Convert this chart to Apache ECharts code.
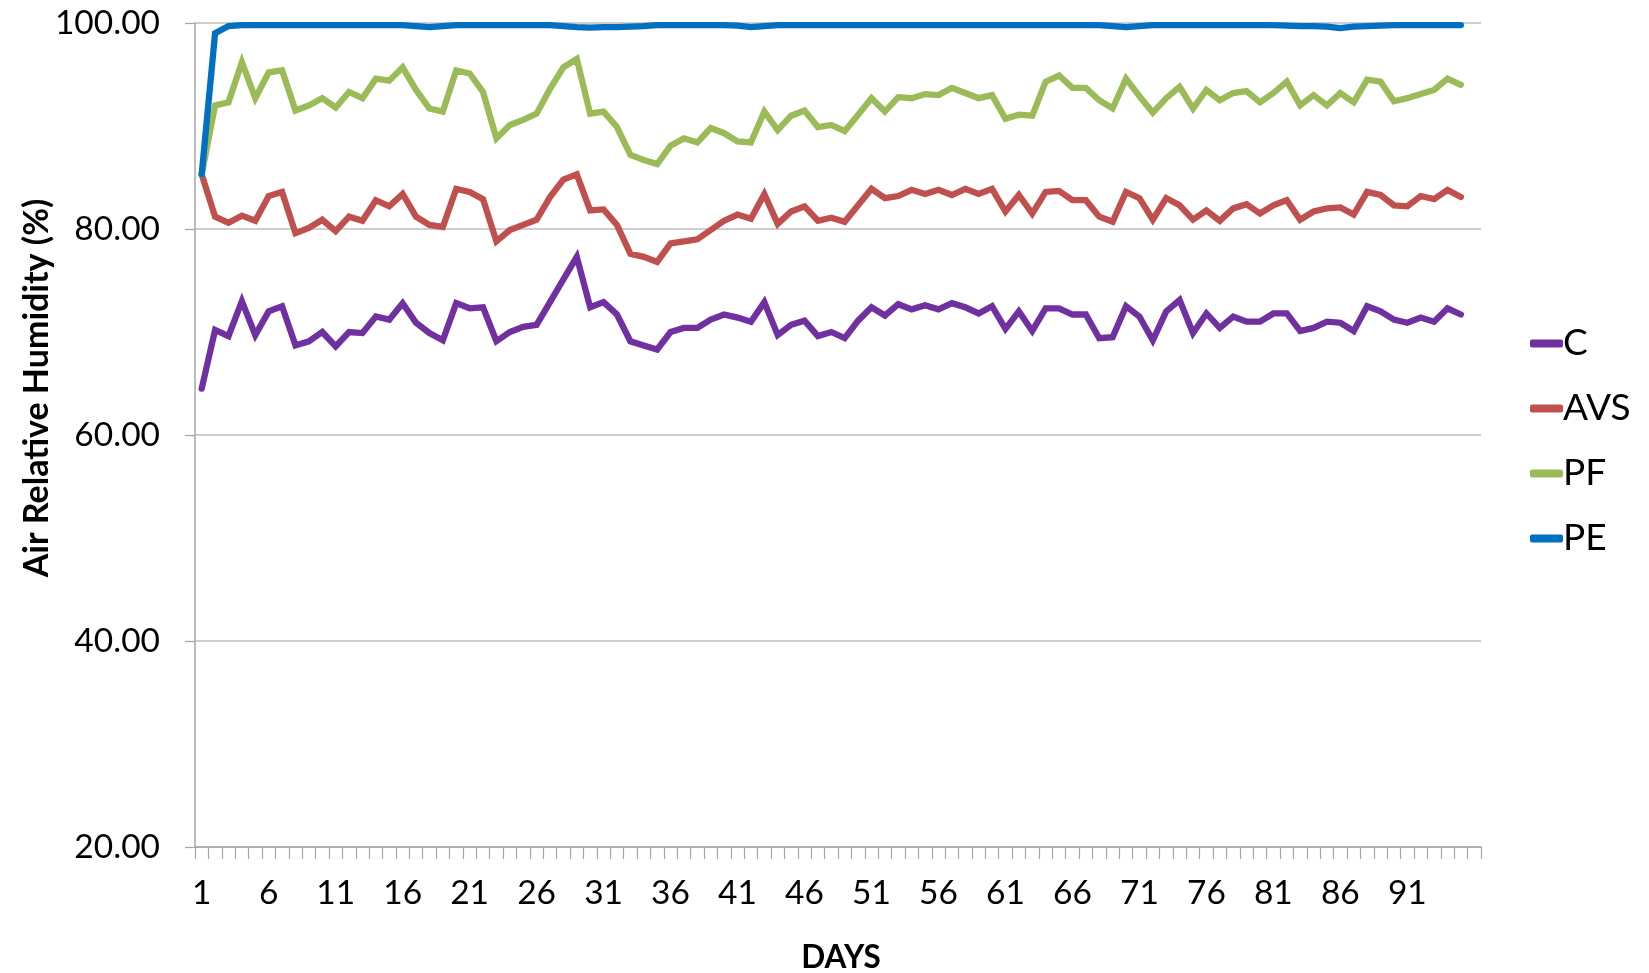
<!DOCTYPE html>
<html>
<head>
<meta charset="utf-8">
<title>Air Relative Humidity</title>
<script src="https://cdn.jsdelivr.net/npm/echarts@6/dist/echarts.min.js"></script>
<style>
  html, body { margin: 0; padding: 0; background: #ffffff; }
  #chart { width: 1649px; height: 973px; }
</style>
</head>
<body>
<div id="chart"></div>
<script>
// Day categories (axis has one spare slot after the last reading)
const days = Array.from({ length: 96 }, (_, i) => String(i + 1));

// Daily air relative humidity readings (%), days 1-95
const C = [
  64.5, 70.2, 69.6, 73.0, 69.7, 72.0, 72.5, 68.7, 69.1, 70.0,
  68.6, 70.0, 69.9, 71.5, 71.2, 72.8, 70.9, 69.9, 69.2, 72.8,
  72.3, 72.4, 69.1, 70.0, 70.5, 70.7, 72.9, 75.1, 77.3, 72.4,
  72.9, 71.7, 69.1, 68.7, 68.3, 70.0, 70.4, 70.4, 71.2, 71.7,
  71.4, 71.0, 72.9, 69.7, 70.7, 71.1, 69.6, 70.0, 69.4, 71.1,
  72.4, 71.6, 72.7, 72.2, 72.6, 72.2, 72.8, 72.4, 71.8, 72.5,
  70.3, 72.0, 70.1, 72.3, 72.3, 71.7, 71.7, 69.4, 69.5, 72.5,
  71.5, 69.2, 72.0, 73.1, 69.9, 71.8, 70.4, 71.5, 71.0, 71.0,
  71.8, 71.8, 70.1, 70.4, 71.0, 70.9, 70.1, 72.5, 72.0, 71.2,
  70.9, 71.4, 71.0, 72.3, 71.7
];
const AVS = [
  85.3, 81.2, 80.6, 81.3, 80.8, 83.2, 83.6, 79.6, 80.1, 80.9,
  79.8, 81.2, 80.8, 82.8, 82.2, 83.4, 81.2, 80.4, 80.2, 83.9,
  83.6, 82.9, 78.8, 79.9, 80.4, 80.9, 83.1, 84.8, 85.3, 81.8,
  81.9, 80.4, 77.6, 77.3, 76.8, 78.6, 78.8, 79.0, 79.9, 80.8,
  81.4, 81.0, 83.4, 80.5, 81.7, 82.2, 80.8, 81.1, 80.7, 82.3,
  83.9, 83.0, 83.2, 83.8, 83.4, 83.8, 83.3, 83.9, 83.4, 83.9,
  81.7, 83.3, 81.5, 83.6, 83.7, 82.8, 82.8, 81.2, 80.7, 83.6,
  83.0, 80.9, 83.0, 82.3, 80.9, 81.8, 80.8, 82.0, 82.4, 81.5,
  82.3, 82.8, 80.9, 81.7, 82.0, 82.1, 81.4, 83.6, 83.3, 82.3,
  82.2, 83.2, 82.9, 83.8, 83.1
];
const PF = [
  85.3, 92.0, 92.3, 96.2, 92.7, 95.2, 95.4, 91.5, 92.0, 92.7,
  91.8, 93.3, 92.7, 94.6, 94.4, 95.7, 93.5, 91.7, 91.4, 95.4,
  95.1, 93.3, 88.8, 90.1, 90.6, 91.2, 93.6, 95.7, 96.5, 91.2,
  91.4, 89.9, 87.2, 86.7, 86.3, 88.1, 88.8, 88.4, 89.8, 89.3,
  88.5, 88.4, 91.4, 89.6, 91.0, 91.5, 89.9, 90.1, 89.5, 91.1,
  92.7, 91.4, 92.8, 92.7, 93.1, 93.0, 93.7, 93.2, 92.7, 93.0,
  90.7, 91.1, 91.0, 94.3, 94.9, 93.7, 93.7, 92.5, 91.7, 94.6,
  92.9, 91.3, 92.7, 93.8, 91.7, 93.5, 92.5, 93.2, 93.4, 92.3,
  93.2, 94.3, 92.0, 93.0, 92.0, 93.2, 92.3, 94.5, 94.3, 92.4,
  92.7, 93.1, 93.5, 94.6, 94.0
];
const PE = [
  85.3, 99.0, 99.7, 99.8, 99.8, 99.8, 99.8, 99.8, 99.8, 99.8,
  99.8, 99.8, 99.8, 99.8, 99.8, 99.8, 99.7, 99.6, 99.7, 99.8,
  99.8, 99.8, 99.8, 99.8, 99.8, 99.8, 99.8, 99.7, 99.6, 99.55,
  99.6, 99.6, 99.65, 99.7, 99.8, 99.8, 99.8, 99.8, 99.8, 99.8,
  99.75, 99.6, 99.7, 99.8, 99.8, 99.8, 99.8, 99.8, 99.8, 99.8,
  99.8, 99.8, 99.8, 99.8, 99.8, 99.8, 99.8, 99.8, 99.8, 99.8,
  99.8, 99.8, 99.8, 99.8, 99.8, 99.8, 99.8, 99.8, 99.7, 99.6,
  99.7, 99.8, 99.8, 99.8, 99.8, 99.8, 99.8, 99.8, 99.8, 99.8,
  99.8, 99.75, 99.7, 99.7, 99.65, 99.5, 99.65, 99.7, 99.75, 99.8,
  99.8, 99.8, 99.8, 99.8, 99.8
];

const seriesNames = ['C', 'AVS', 'PF', 'PE'];
const seriesColors = ['#7030A0', '#C0504D', '#9BBB59', '#0070C0'];
const seriesData = [C, AVS, PF, PE];

const yTicks = { min: 20, max: 100, step: 20 };
const FONT = 'Lato, "Open Sans", "DejaVu Sans", sans-serif';

const chart = echarts.init(document.getElementById('chart'), null, { renderer: 'canvas' });

chart.setOption({
  animation: false,
  backgroundColor: '#ffffff',
  grid: { left: 195, right: 168, top: 23, bottom: 126, containLabel: false },
  legend: {
    orient: 'vertical',
    left: 1525,
    top: 320,
    itemWidth: 33,
    itemHeight: 8,
    itemGap: 28,
    icon: 'roundRect',
    data: seriesNames,
    textStyle: {
      fontFamily: FONT, fontSize: 37, color: '#000000', lineHeight: 37,
      padding: [0, 0, 0, -5]
    }
  },
  xAxis: {
    type: 'category',
    data: days,
    boundaryGap: true,
    axisLine: { lineStyle: { color: '#A6A6A6', width: 1.5 } },
    axisTick: { show: true, interval: 0, length: 12, lineStyle: { color: '#A6A6A6', width: 1.2 } },
    axisLabel: {
      interval: (idx) => idx % 5 === 0 && idx <= 90,
      margin: 29,
      fontFamily: FONT,
      fontSize: 33.5,
      color: '#000000'
    },
    splitLine: { show: false }
  },
  yAxis: {
    type: 'value',
    min: yTicks.min,
    max: yTicks.max,
    interval: yTicks.step,
    axisLine: { show: true, lineStyle: { color: '#A6A6A6', width: 1.5 } },
    axisTick: { show: true, length: 10, lineStyle: { color: '#A6A6A6', width: 1.2 } },
    axisLabel: {
      margin: 35,
      fontFamily: FONT,
      fontSize: 33.5,
      color: '#000000',
      formatter: (v) => v.toFixed(2)
    },
    splitLine: { show: true, lineStyle: { color: '#BFBFBF', width: 1.5 } }
  },
  graphic: [
    {
      type: 'text',
      x: 37,
      y: 388,
      rotation: Math.PI / 2,
      style: {
        text: 'Air Relative Humidity (%)',
        fontFamily: FONT,
        fontWeight: 'bold',
        fontSize: 34,
        fill: '#000000',
        align: 'center',
        verticalAlign: 'middle'
      }
    },
    {
      type: 'text',
      x: 841,
      y: 958,
      style: {
        text: 'DAYS',
        fontFamily: FONT,
        fontWeight: 'bold',
        fontSize: 31.5,
        fill: '#000000',
        align: 'center',
        verticalAlign: 'middle'
      }
    }
  ],
  series: seriesNames.map((name, i) => ({
    name: name,
    type: 'line',
    data: seriesData[i],
    showSymbol: false,
    symbol: 'none',
    color: seriesColors[i],
    lineStyle: { color: seriesColors[i], width: 6.3, join: 'miter', cap: 'round' },
    emphasis: { disabled: true }
  }))
});
</script>
</body>
</html>
